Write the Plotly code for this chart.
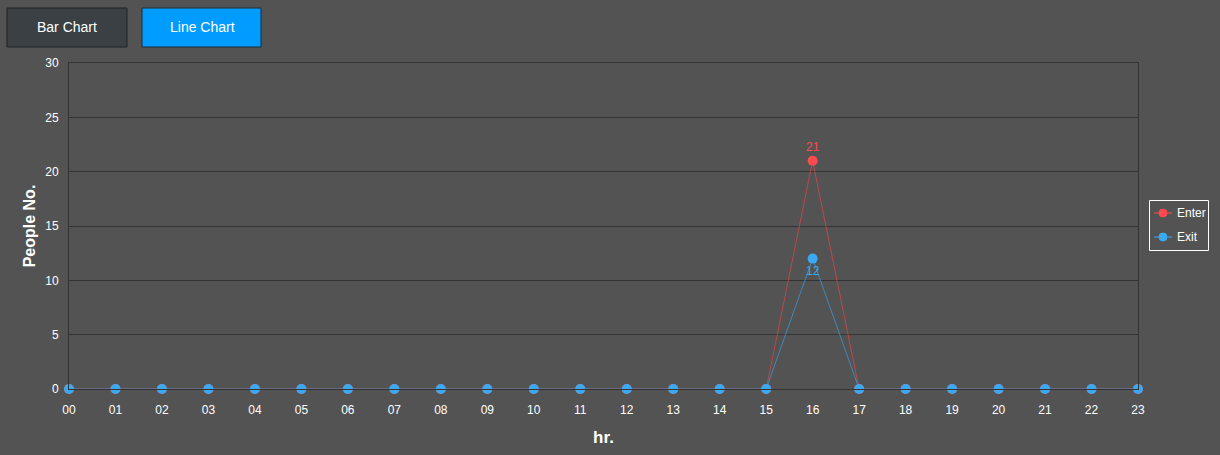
import plotly.graph_objects as go

hours = ["00","01","02","03","04","05","06","07","08","09","10","11",
         "12","13","14","15","16","17","18","19","20","21","22","23"]
enter = [0,0,0,0,0,0,0,0,0,0,0,0,0,0,0,0,21,0,0,0,0,0,0,0]
exit_ = [0,0,0,0,0,0,0,0,0,0,0,0,0,0,0,0,12,0,0,0,0,0,0,0]
y_ticks = [0, 5, 10, 15, 20, 25, 30]
series_names = ["Enter", "Exit"]

xs = list(range(len(hours)))
FONT = "Liberation Sans, Arial, sans-serif"
RED, RED_LINE = "#ff4a4f", "rgba(220,70,75,0.75)"
BLUE, BLUE_LINE = "#3aa9f2", "rgba(60,150,210,0.8)"

def labels(vals):
    return [str(v) if v else "" for v in vals]

fig = go.Figure()
fig.add_trace(go.Scatter(
    x=xs, y=enter, name=series_names[0], mode="lines+markers+text",
    line=dict(color=RED_LINE, width=1),
    marker=dict(color=RED, size=10),
    text=labels(enter), textposition="top center",
    textfont=dict(color=RED, size=12, family=FONT),
    cliponaxis=False, showlegend=False,
))
fig.add_trace(go.Scatter(
    x=xs, y=exit_, name=series_names[1], mode="lines+markers+text",
    line=dict(color=BLUE_LINE, width=1),
    marker=dict(color=BLUE, size=10),
    text=labels(exit_), textposition="bottom center",
    textfont=dict(color=BLUE, size=12, family=FONT),
    cliponaxis=False, showlegend=False,
))

PW, PH = 1069, 326
def px(x):
    return (x - 69) / PW
def py(y):
    return (389 - y) / PH

shapes = [
    dict(type="rect", xref="paper", yref="paper",
         x0=px(7), x1=px(127), y0=py(47), y1=py(8),
         fillcolor="#3a4044", line=dict(color="#1e2326", width=1)),
    dict(type="rect", xref="paper", yref="paper",
         x0=px(142), x1=px(261), y0=py(47), y1=py(8),
         fillcolor="#009cff", line=dict(color="#1e2a33", width=1)),
    # legend box
    dict(type="rect", xref="paper", yref="paper",
         x0=px(1149.5), x1=px(1208.5), y0=py(250.5), y1=py(200.5),
         fillcolor="rgba(0,0,0,0)", line=dict(color="white", width=1)),
]
annotations = [
    dict(text="Bar Chart", xref="paper", yref="paper",
         x=px(67), y=py(27), xanchor="center", yanchor="middle", showarrow=False,
         font=dict(color="white", size=14, family=FONT)),
    dict(text="Line Chart", xref="paper", yref="paper",
         x=px(202), y=py(27), xanchor="center", yanchor="middle", showarrow=False,
         font=dict(color="white", size=14, family=FONT)),
]
for i, (name, mc, lc) in enumerate(zip(series_names, [RED, BLUE], [RED_LINE, BLUE_LINE])):
    yy = 213 + 24 * i
    shapes.append(dict(type="line", xref="paper", yref="paper",
                       x0=px(1154), x1=px(1172), y0=py(yy), y1=py(yy),
                       line=dict(color=mc, width=1)))
    shapes.append(dict(type="circle", xref="paper", yref="paper",
                       x0=px(1159), x1=px(1167), y0=py(yy + 4), y1=py(yy - 4),
                       fillcolor=mc, line=dict(color=mc, width=1)))
    annotations.append(dict(text=name, xref="paper", yref="paper",
                            x=px(1175), y=py(yy), xanchor="left", yanchor="middle",
                            showarrow=False,
                            font=dict(color="white", size=12, family=FONT)))

fig.update_layout(
    width=1220, height=455,
    paper_bgcolor="#535353", plot_bgcolor="#535353",
    margin=dict(l=69, r=82, t=63, b=66, autoexpand=False),
    font=dict(family=FONT, color="white", size=12),
    showlegend=False,
    xaxis=dict(
        range=[0, 23], tickvals=xs, ticktext=hours,
        showgrid=False, showline=True, linecolor="#333333", linewidth=1,
        mirror=True, zeroline=False, ticks="outside", ticklen=10,
        tickcolor="rgba(0,0,0,0)",
        tickfont=dict(color="white", size=12),
        title=dict(text="<b>hr.</b>", font=dict(size=17, color="white"), standoff=14),
    ),
    yaxis=dict(
        range=[0, 30], tickvals=y_ticks,
        showgrid=True, gridcolor="#333333", gridwidth=1,
        showline=True, linecolor="#333333", linewidth=1, mirror=True,
        zeroline=False, ticks="outside", ticklen=7, tickcolor="rgba(0,0,0,0)",
        tickfont=dict(color="white", size=12),
        title=dict(text="<b>People No.</b>", font=dict(size=16, color="white"), standoff=5),
    ),
    shapes=shapes,
    annotations=annotations,
)

fig.write_html(
    "out.html",
    config={"displayModeBar": False},
    post_script="document.body.style.margin='0';document.body.style.background='#535353';",
)
